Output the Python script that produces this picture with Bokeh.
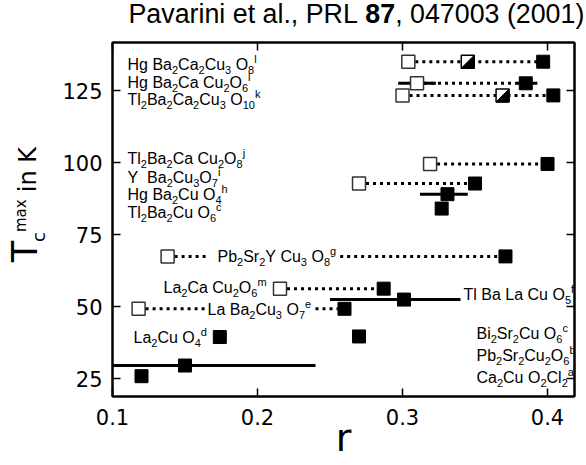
from bokeh.plotting import figure
from bokeh.layouts import column, row
from bokeh.models import ColumnDataSource, LinearAxis, Range1d, FixedTicker
from bokeh.core.properties import value
from bokeh.embed import file_html
from bokeh.resources import INLINE

# ---- data: r (range parameter) and Tc^max in K ----
r_open = [0.304, 0.310, 0.300, 0.319, 0.270, 0.138, 0.2155, 0.118]
tc_open = [135.0, 127.5, 123.3, 99.5, 92.7, 67.4, 56.2, 49.2]

r_half = [0.345, 0.369]
tc_half = [135.0, 123.3]

r_full = [0.397, 0.385, 0.404, 0.400, 0.350, 0.331, 0.327, 0.371,
          0.287, 0.301, 0.260, 0.270, 0.174, 0.150, 0.120]
tc_full = [135.0, 127.5, 123.3, 99.5, 92.7, 89.0, 84.0, 67.4,
           56.2, 52.4, 49.2, 39.6, 39.4, 29.5, 25.8]

# dotted links between related compounds (broken where a label sits on them)
link_r0 = [0.304, 0.310, 0.300, 0.319, 0.270, 0.138, 0.257, 0.2155, 0.118, 0.240]
link_r1 = [0.397, 0.385, 0.404, 0.400, 0.350, 0.166, 0.371, 0.287, 0.164, 0.260]
link_tc = [135.0, 127.5, 123.3, 99.5, 92.7, 67.4, 67.4, 56.2, 49.2, 49.2]

# spread of r for a given compound
bar_r0 = [0.297, 0.379, 0.312, 0.250, 0.100]
bar_r1 = [0.323, 0.393, 0.345, 0.340, 0.240]
bar_tc = [127.5, 127.5, 89.0, 52.4, 29.5]

x_ticks = [0.1, 0.2, 0.3, 0.4]
y_ticks = [25, 50, 75, 100, 125]

# ---- page geometry (pixels) ----
W, H = 586, 465
TOP_H = 30          # strip holding the reference line
LEFT_W = 52         # strip holding the vertical axis title
FL, FT, FW, FH = 112, 42, 462, 354   # plot frame on the page
XS, XE = 0.1, 0.4186
YS, YE = 18.75, 141.67
DROP = 0.33         # text glyphs sit this fraction of their size below the anchor


def X(px):
    return XS + (px - FL) * (XE - XS) / FW


def Y(py):
    return YE - (py - FT) * (YE - YS) / FH


def strip(w, h, x0, y_top):
    """A bare figure whose data coordinates are page pixels (y flipped)."""
    f = figure(width=w, height=h, x_range=Range1d(x0, x0 + w),
               y_range=Range1d(H - (y_top + h), H - y_top),
               output_backend="svg", toolbar_location=None,
               x_axis_location=None, y_axis_location=None, min_border=0)
    f.grid.visible = False
    f.outline_line_color = None
    f.background_fill_color = "white"
    f.border_fill_color = "white"
    return f


# ---- main plot ----
MAIN_W = W - LEFT_W
MAIN_H = H - TOP_H
p = figure(width=MAIN_W, height=MAIN_H, x_range=Range1d(XS, XE), y_range=Range1d(YS, YE),
           output_backend="svg", toolbar_location=None,
           min_border_left=FL - LEFT_W, min_border_right=W - FL - FW,
           min_border_top=FT - TOP_H, min_border_bottom=H - (FT + FH))
p.grid.visible = False
p.outline_line_color = "black"
p.outline_line_width = 2
p.background_fill_color = "white"
p.border_fill_color = "white"

for ax in (p.xaxis[0], p.yaxis[0]):
    ax.major_tick_in = 8
    ax.major_tick_out = 0
    ax.minor_tick_line_color = None
    ax.axis_line_width = 2
    ax.major_tick_line_width = 1.5
    ax.major_label_text_font = "DejaVu Sans"
    ax.major_label_text_font_size = "21px"
    ax.major_label_text_color = "black"
p.xaxis.ticker = FixedTicker(ticks=x_ticks)
p.yaxis.ticker = FixedTicker(ticks=y_ticks)
p.xaxis.major_label_standoff = 12
p.yaxis.major_label_standoff = 10

# horizontal axis title
p.xaxis.axis_label = "r"
p.xaxis.axis_label_text_font = "DejaVu Sans"
p.xaxis.axis_label_text_font_size = "38px"
p.xaxis.axis_label_text_font_style = "normal"
p.xaxis.axis_label_text_color = "black"
p.xaxis.axis_label_standoff = -12

top = LinearAxis(ticker=FixedTicker(ticks=x_ticks))
right = LinearAxis(ticker=FixedTicker(ticks=y_ticks))
for ax in (top, right):
    ax.major_tick_in = 8
    ax.major_tick_out = 0
    ax.minor_tick_line_color = None
    ax.axis_line_width = 2
    ax.major_tick_line_width = 1.5
    ax.major_label_text_font_size = "1px"
    ax.major_label_text_color = None
    ax.major_label_standoff = 0
p.add_layout(top, "above")
p.add_layout(right, "right")

p.segment(x0=bar_r0, x1=bar_r1, y0=bar_tc, y1=bar_tc, line_color="black", line_width=3)
p.segment(x0=link_r0, x1=link_r1, y0=link_tc, y1=link_tc, line_color="black",
          line_width=3, line_dash="3 4")

SQ = 13
p.scatter(r_full, tc_full, marker="square", size=SQ, fill_color="black", line_color="black")
p.scatter(r_open, tc_open, marker="square", size=SQ, fill_color="white",
          line_color="#333333", line_width=1.5)
p.scatter(r_half, tc_half, marker="square", size=SQ, fill_color="white",
          line_color="black", line_width=1.5)
hx = (SQ / 2) * (XE - XS) / FW
hy = (SQ / 2) * (YE - YS) / FH
tri_x = [[r + hx, r + hx, r - hx] for r in r_half]
tri_y = [[t + hy, t - hy, t - hy] for t in tc_half]
p.patches(tri_x, tri_y, fill_color="black", line_color="black", line_width=1)

# ---- chemical formula labels (subscripts / superscripts) ----
ADV = {" ": 278, "H": 722, "g": 556, "B": 667, "a": 556, "C": 722, "u": 556, "O": 778,
       "T": 611, "l": 222, "Y": 667, "P": 667, "b": 556, "S": 667, "r": 333, "L": 556,
       "i": 222, "c": 500, "d": 556, "e": 556, "f": 278, "h": 556, "j": 222, "k": 500,
       "m": 833, "v": 500, "t": 278, "n": 556, ".": 278, ",": 278, "R": 722,
       "(": 333, ")": 333}
MAIN, SMALL = 16, 11


def adv(s, size):
    return sum(ADV.get(ch, 556) for ch in s) * size / 1000.0


def parse(formula):
    runs, i = [], 0
    while i < len(formula):
        ch = formula[i]
        if ch in "_^":
            mode = "sub" if ch == "_" else "sup"
            if formula[i + 1] == "{":
                j = formula.index("}", i)
                txt, i = formula[i + 2:j], j + 1
            else:
                txt, i = formula[i + 1], i + 2
            runs.append((mode, txt))
        else:
            if runs and runs[-1][0] == "main":
                runs[-1] = ("main", runs[-1][1] + ch)
            else:
                runs.append(("main", ch))
            i += 1
    return runs


labels = [
    ("Hg Ba_2Ca_2Cu_3 O_8^l", 127, 64),
    ("Hg Ba_2Ca Cu_2O_6^l", 127, 82),
    ("Tl_2Ba_2Ca_2Cu_3 O_{10}^k", 127, 99),
    ("Tl_2Ba_2Ca Cu_2O_8^j", 127, 158),
    ("Y  Ba_2Cu_3O_7^i", 127, 177),
    ("Hg Ba_2Cu O_4^h", 127, 194),
    ("Tl_2Ba_2Cu O_6^c", 127, 212),
    ("Pb_2Sr_2Y Cu_3 O_8^g", 217, 256),
    ("La_2Ca Cu_2O_6^m", 163, 287),
    ("La Ba_2Cu_3 O_7^e", 207, 309),
    ("La_2Cu O_4^d", 133, 337),
    ("Tl Ba La Cu O_5^f", 463, 294),
    ("Bi_2Sr_2Cu O_6^c", 476, 333),
    ("Pb_2Sr_2Cu_2O_6^b", 476, 355),
    ("Ca_2Cu O_2Cl_2^a", 476, 377),
]

cx, cy, ct, cxo, cyo, cfs = [], [], [], [], [], []


def put(txt, px, py, off, dy, size):
    cx.append(X(px))
    cy.append(Y(py + 5.5))
    ct.append(txt)
    cxo.append(off)
    cyo.append(dy - DROP * size)
    cfs.append(f"{size}px")


for formula, px, py in labels:
    off = 0.0
    for mode, txt in parse(formula):
        if mode == "main":
            for k, word in enumerate(txt.split(" ")):
                if k > 0:
                    off += adv(" ", MAIN)
                if word:
                    put(word, px, py, off, 0, MAIN)
                    off += adv(word, MAIN)
        else:
            put(txt, px, py, off, 3.5 if mode == "sub" else -7, SMALL)
            off += adv(txt, SMALL)

src = ColumnDataSource(dict(x=cx, y=cy, text=ct, xo=cxo, yo=cyo, fs=cfs))
p.text(x="x", y="y", text="text", x_offset="xo", y_offset="yo", text_font_size="fs",
       text_font=value("Liberation Sans"), text_align="left",
       text_baseline="alphabetic", text_color="black", source=src)

# ---- reference line above the plot ----
title_fig = strip(W, TOP_H, 0, 0)
TFS = 26.8
t_parts = [("Pavarini et al., PRL", "normal"), ("87", "bold"), (", 047003 (2001)", "normal")]
tx = 128
for k, (txt, style) in enumerate(t_parts):
    title_fig.text(x=[tx], y=[H - (22 - DROP * TFS)], text=[txt],
                   text_font=value("Liberation Sans"), text_font_size=f"{TFS}px",
                   text_font_style=style, text_align="left",
                   text_baseline="alphabetic", text_color="black")
    tx += adv(txt, TFS) + (adv(" ", TFS) if k == 0 else 0)

# ---- vertical axis title: T_c^max in K ----
ylab_fig = strip(LEFT_W, MAIN_H, 0, TOP_H)
for txt, bx, by, fs in (("T", 36, 300, 35), ("c", 44, 275, 18),
                        ("max", 25, 263, 15), ("in K", 35, 214, 24)):
    ylab_fig.text(x=[bx - DROP * fs], y=[H - by], text=[txt], angle=1.5707963,
                  text_font=value("DejaVu Sans"), text_font_size=f"{fs}px",
                  text_align="left", text_baseline="alphabetic", text_color="black")

page = column(title_fig, row(ylab_fig, p, spacing=0), spacing=0)
open("out.html", "w").write(file_html(page, INLINE))
